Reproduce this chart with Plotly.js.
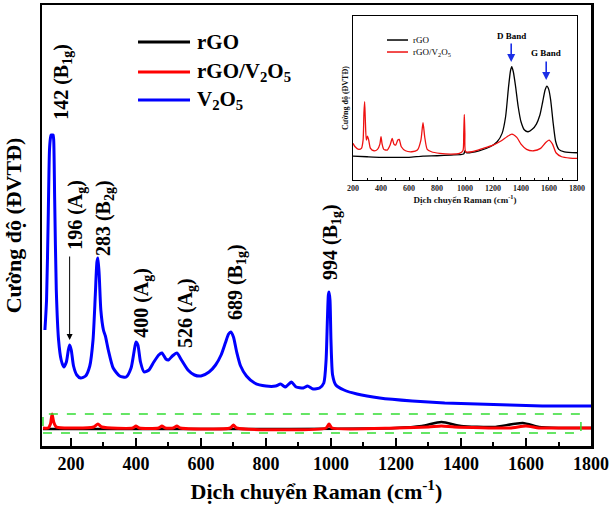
<!DOCTYPE html>
<html>
<head>
<meta charset="utf-8">
<script src="https://cdn.plot.ly/plotly-3.0.1.min.js"></script>
<style>
  html, body { margin: 0; padding: 0; background: #fff; }
  #chart { width: 609px; height: 512px; }
</style>
</head>
<body>
<div id="chart"></div>
<script>
// ---- Main Raman spectra (intensity in arbitrary units, offset for clarity) ----
const v2o5Shift = [120,125,130,134,137,139,142,145,147,150,155,162,170,178,186,192,196,201,208,218,230,245,258,268,275,280,283,287,292,300,306,315,330,350,370,385,394,400,406,414,425,440,455,470,480,492,500,512,526,540,560,580,600,625,645,662,675,685,692,700,710,722,740,765,800,830,845,860,878,893,915,928,945,965,978,985,989,992,994,997,1000,1005,1015,1040,1080,1150,1250,1350,1450,1550,1650,1750,1800];
const v2o5Int   = [116,146,226,296,308,311,311,311,306,246,156,106,86,79,84,96,101,96,80,71,68,70,80,106,151,184,188,171,136,116,110,96,78,70,69,78,94,104,101,84,74,76,84,91,93,87,86,90,93,86,76,71,70,74,81,91,103,112,114,109,94,80,70,63,60,60,62,59,64,59,58,60,57,58,63,86,126,151,154,146,106,71,61,56,52,48,45,43,42,41,40,40,40];

const compShift = [114,130,137,142,147,155,200,270,283,295,390,400,410,470,480,490,515,526,537,690,700,710,985,994,1003,1200,1300,1340,1380,1550,1600,1640,1700,1800];
const compInt   = [18,18,22,32,24,19,18,19,22,19,18,20,18,18,20,18,18,20,18,18,21,18,18,22,18,18,19,20,19,18,20,18,18,18];

const rgoShift = [114,400,800,1200,1280,1340,1400,1500,1590,1640,1700,1800];
const rgoInt   = [17,17,17,18,20,24,20,19,23,19,18,18];

// ---- Inset: rGO vs rGO/V2O5 ----
const insetCompShift = [200,215,240,260,272,278,283,288,295,303,312,325,350,375,392,400,408,420,445,465,480,492,505,520,530,545,575,620,660,685,700,712,730,760,820,900,960,985,991,995,999,1005,1050,1130,1200,1260,1300,1335,1370,1400,1440,1490,1540,1575,1600,1625,1650,1690,1750,1800];
const insetCompInt   = [36.7,33.3,30.7,31.7,40,66.7,78.3,60,40,44,40,31.7,29.3,30.7,36,43.3,36,30.7,30,35,41.7,36,35,40,40.7,33.3,29.3,28.3,30,40,57.3,43.3,30.7,28.3,26.7,26,26.7,29.3,46.7,65.7,46.7,28.3,28.3,31.7,35,39.3,43.3,46,42.7,36,30.7,29.3,31.7,37.3,40,36,27.3,23.3,22,21.7];

const insetRgoShift = [200,300,400,500,600,700,800,900,990,1000,1010,1100,1180,1230,1265,1290,1310,1325,1334,1345,1360,1380,1400,1425,1450,1480,1510,1535,1555,1572,1585,1598,1612,1630,1648,1670,1710,1800];
const insetRgoInt   = [24,23.3,22.7,22.7,22.7,24,24.3,25,26,29.3,27.3,29.3,33.3,38.3,46.7,63.3,91.7,109.3,113.3,108.3,95,73.3,58.3,50,48.3,50.7,56,65,78.3,90,94,90.7,80,56.7,38.3,30.7,28.3,27.3];

// Peak assignments: wavenumber, mode label
const peakNames = ['142 (B<sub>1g</sub>)','196 (A<sub>g</sub>)','283 (B<sub>2g</sub>)','400 (A<sub>g</sub>)','526 (A<sub>g</sub>)','689 (B<sub>1g</sub>)','994 (B<sub>1g</sub>)'];
const seriesNames = ['rGO', 'rGO/V<sub>2</sub>O<sub>5</sub>', 'V<sub>2</sub>O<sub>5</sub>'];
const seriesColors = ['#000000', '#ff0000', '#0000ff'];
const xTicks = [200,400,600,800,1000,1200,1400,1600,1800];

const SERIF = 'Liberation Serif, Times New Roman, serif';

const traces = [
  {x: rgoShift, y: rgoInt, mode: 'lines', line: {color: seriesColors[0], width: 2.5, shape: 'spline', smoothing: 0.6}, xaxis: 'x', yaxis: 'y', hoverinfo: 'skip'},
  {x: compShift, y: compInt, mode: 'lines', line: {color: seriesColors[1], width: 3, shape: 'spline', smoothing: 0.6}, xaxis: 'x', yaxis: 'y', hoverinfo: 'skip'},
  {x: v2o5Shift, y: v2o5Int, mode: 'lines', line: {color: seriesColors[2], width: 3, shape: 'spline', smoothing: 0.6}, xaxis: 'x', yaxis: 'y', hoverinfo: 'skip'},
  {x: insetRgoShift, y: insetRgoInt, mode: 'lines', line: {color: '#000000', width: 1.3, shape: 'spline', smoothing: 0.6}, xaxis: 'x2', yaxis: 'y2', hoverinfo: 'skip'},
  {x: insetCompShift, y: insetCompInt, mode: 'lines', line: {color: '#ee1111', width: 1.3, shape: 'spline', smoothing: 0.6}, xaxis: 'x2', yaxis: 'y2', hoverinfo: 'skip'}
];

// Label anchor points (label centre wavenumber, label bottom intensity)
const labelX = [172, 215, 302, 418, 554, 708, 1000];
const labelY = [324, 194, 188, 106, 96, 124, 164];

const annotations = peakNames.map((t, i) => ({
  text: '<b>' + t + '</b>', x: labelX[i], y: labelY[i], xref: 'x', yref: 'y',
  xanchor: 'center', yanchor: 'bottom', textangle: -90, showarrow: false,
  font: {family: SERIF, size: 20, color: '#000'}
}));

// arrow to the 196 cm-1 mode
annotations.push({x: 196, y: 106, xref: 'x', yref: 'y', text: '', showarrow: true,
  ax: 0, ay: -85, arrowhead: 2, arrowsize: 1.2, arrowwidth: 1, arrowcolor: '#000'});

// main legend
const legY = [0.916, 0.848, 0.7846];
const shapes = [];
seriesNames.forEach((n, i) => {
  shapes.push({type: 'line', xref: 'paper', yref: 'paper', x0: 0.1749, x1: 0.2696, y0: legY[i], y1: legY[i],
    line: {color: seriesColors[i], width: 3}});
  annotations.push({text: '<b>' + n + '</b>', xref: 'paper', yref: 'paper', x: 0.2787, y: legY[i],
    xanchor: 'left', yanchor: 'middle', showarrow: false, font: {family: SERIF, size: 21, color: '#000'}});
});

// inset legend
const insetLegY = [0.9206, 0.8934];
const insetNames = ['rGO', 'rGO/V<sub>2</sub>O<sub>5</sub>'];
const insetColors = ['#000000', '#ee1111'];
insetNames.forEach((n, i) => {
  shapes.push({type: 'line', xref: 'paper', yref: 'paper', x0: 0.6284, x1: 0.6667, y0: insetLegY[i], y1: insetLegY[i],
    line: {color: insetColors[i], width: 1.5}});
  annotations.push({text: n, xref: 'paper', yref: 'paper', x: 0.6721, y: insetLegY[i],
    xanchor: 'left', yanchor: 'middle', showarrow: false, font: {family: SERIF, size: 9, color: '#000'}});
});

// D and G band markers in the inset
annotations.push({text: '<b>D Band</b>', x: 1330, y: 144, xref: 'x2', yref: 'y2', showarrow: false,
  font: {family: SERIF, size: 9, color: '#000'}});
annotations.push({x: 1330, y: 118, xref: 'x2', yref: 'y2', text: '', showarrow: true, ax: 0, ay: -20,
  arrowhead: 2, arrowsize: 1, arrowwidth: 1.6, arrowcolor: '#1a2ee6'});
annotations.push({text: '<b>G Band</b>', x: 1580, y: 127, xref: 'x2', yref: 'y2', showarrow: false,
  font: {family: SERIF, size: 9, color: '#000'}});
annotations.push({x: 1580, y: 100, xref: 'x2', yref: 'y2', text: '', showarrow: true, ax: 0, ay: -20,
  arrowhead: 2, arrowsize: 1, arrowwidth: 1.6, arrowcolor: '#1a2ee6'});

// dashed box around the flat composite / rGO traces
shapes.push({type: 'rect', xref: 'x', yref: 'y', x0: 114, x1: 1769, y0: 13, y1: 32,
  line: {color: '#33dd33', width: 1.5, dash: 'dash'}, fillcolor: 'rgba(0,0,0,0)'});

const layout = {
  width: 609, height: 512,
  margin: {l: 42, r: 18, t: 5, b: 66},
  paper_bgcolor: '#fff', plot_bgcolor: 'rgba(0,0,0,0)',
  showlegend: false,
  xaxis: {
    domain: [0, 1], range: [111, 1800], anchor: 'y',
    tickmode: 'array', tickvals: xTicks, ticktext: xTicks.map(String),
    ticks: 'inside', ticklen: 8, tickwidth: 2, tickcolor: '#000',
    minor: {ticks: 'inside', ticklen: 4, tickwidth: 2, tickcolor: '#000', dtick: 100, tick0: 100},
    showline: true, linewidth: 2.5, linecolor: '#000', mirror: true,
    showgrid: false, zeroline: false,
    tickfont: {family: SERIF, size: 18, color: '#000', weight: 'bold'},
    title: {text: 'Dịch chuyển Raman (cm<sup>-1</sup>)', standoff: 11,
      font: {family: SERIF, size: 22, color: '#000', weight: 'bold'}}
  },
  yaxis: {
    domain: [0, 1], range: [0, 441], anchor: 'x',
    showticklabels: false, ticks: '',
    showline: true, linewidth: 2.5, linecolor: '#000', mirror: true,
    showgrid: false, zeroline: false,
    title: {text: 'Cường độ (ĐVTĐ)', standoff: 12,
      font: {family: SERIF, size: 22, color: '#000', weight: 'bold'}}
  },
  xaxis2: {
    domain: [0.5665, 0.9745], range: [200, 1800], anchor: 'y2',
    tickmode: 'array', tickvals: xTicks, ticktext: xTicks.map(String),
    ticks: 'inside', ticklen: 3, tickwidth: 1, tickcolor: '#000',
    minor: {ticks: 'inside', ticklen: 2, tickwidth: 1, tickcolor: '#000', dtick: 100, tick0: 100},
    showline: true, linewidth: 1.2, linecolor: '#000', mirror: true,
    showgrid: false, zeroline: false,
    tickfont: {family: SERIF, size: 8, color: '#222', weight: 'bold'},
    title: {text: 'Dịch chuyển Raman (cm<sup>-1</sup>)', standoff: 4,
      font: {family: SERIF, size: 9, color: '#111', weight: 'bold'}}
  },
  yaxis2: {
    domain: [0.603, 0.975], range: [0, 164], anchor: 'x2',
    showticklabels: false, ticks: '',
    showline: true, linewidth: 1.2, linecolor: '#000', mirror: true,
    showgrid: false, zeroline: false,
    title: {text: 'Cường độ (ĐVTĐ)', standoff: 2,
      font: {family: SERIF, size: 8, color: '#111', weight: 'bold'}}
  },
  annotations: annotations,
  shapes: shapes
};

Plotly.newPlot('chart', traces, layout, {staticPlot: true, displayModeBar: false});
</script>
</body>
</html>
